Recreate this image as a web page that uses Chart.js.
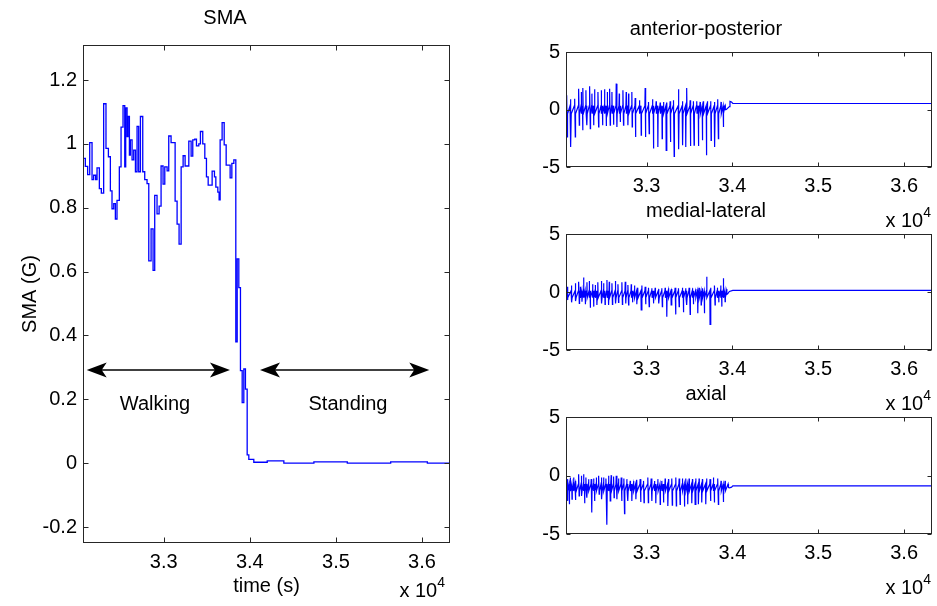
<!DOCTYPE html>
<html>
<head>
<title>SMA - walking and standing</title>
<script src="https://cdn.jsdelivr.net/npm/chart.js"></script>
<style>
    body { margin: 0; background: #fff; }
    #wrap { position: relative; width: 937px; height: 606px; overflow: hidden; }
    canvas { position: absolute; }
</style>
</head>
<body>
<div id="wrap">
    <canvas id="smaChart" width="470" height="606" style="left:0px;top:0px"></canvas>
    <canvas id="apChart" width="457" height="237" style="left:480px;top:0px"></canvas>
    <canvas id="mlChart" width="457" height="238" style="left:480px;top:182px"></canvas>
    <canvas id="axChart" width="457" height="239" style="left:480px;top:365px"></canvas>
</div>
<script>
// ---------- data ----------
const xTickValues = [33000, 34000, 35000, 36000];
const smaYTicks = [-0.2, 0, 0.2, 0.4, 0.6, 0.8, 1, 1.2];
const accYTicks = [-5, 0, 5];

// SMA (G), one value per window, held until the next time
const smaTime = [32062, 32089, 32116, 32140, 32167, 32186, 32209, 32225, 32252, 32275,
    32302, 32329, 32357, 32380, 32399, 32419, 32438, 32457, 32484, 32504,
    32527, 32547, 32558, 32574, 32585, 32601, 32612, 32632, 32651, 32671,
    32690, 32709, 32729, 32756, 32779, 32806, 32826, 32853, 32876, 32895,
    32922, 32946, 32969, 32992, 33012, 33039, 33058, 33085, 33132, 33155,
    33178, 33202, 33225, 33248, 33291, 33318, 33337, 33360, 33380, 33407,
    33426, 33453, 33477, 33496, 33516, 33562, 33589, 33605, 33628, 33643,
    33655, 33678, 33702, 33725, 33771, 33791, 33814, 33837, 33853, 33872,
    33891, 33911, 33930, 33949, 33969, 33988, 34046, 34202, 34395, 34744,
    35132, 35636, 36062, 36325];
const smaValue = [0.955, 0.930, 0.904, 1.004, 0.888, 0.902, 0.888, 0.925, 0.860, 0.846,
    1.126, 0.986, 0.960, 0.853, 0.797, 0.813, 0.765, 0.823, 0.928, 1.053,
    1.120, 0.928, 1.113, 1.023, 1.086, 0.965, 1.013, 0.950, 0.981, 0.913,
    1.055, 0.913, 1.086, 0.913, 0.888, 0.876, 0.634, 0.734, 0.604, 0.839,
    0.781, 0.805, 0.931, 0.874, 0.928, 0.916, 1.025, 1.004, 0.821, 0.749,
    0.686, 0.928, 0.963, 0.931, 1.009, 0.962, 1.013, 1.015, 0.994, 1.000,
    1.039, 1.000, 0.955, 0.897, 0.871, 0.915, 0.897, 0.865, 0.849, 0.825,
    1.013, 1.067, 0.997, 0.934, 0.894, 0.939, 0.950, 0.380, 0.640, 0.550,
    0.290, 0.190, 0.295, 0.232, 0.026, 0.012, 0.003, 0.007, 0.000, 0.004,
    0.000, 0.004, 0.000, 0.000];

// anterior-posterior acceleration (G)
const apPeakTime = [32070, 32112, 32163, 32209, 32240, 32260, 32294, 32337, 32364, 32395,
    32434, 32473, 32511, 32543, 32570, 32597, 32647, 32682, 32725, 32763,
    32791, 32829, 32868, 32918, 32984, 33023, 33070, 33112, 33159, 33198,
    33236, 33275, 33314, 33372, 33418, 33469, 33508, 33546, 33585, 33624,
    33663, 33709, 33748, 33791, 33829, 33868, 33915];
const apPeakValue = [1.23, 0.89, 0.94, 1.81, 1.52, 1.87, 1.67, 2.02, 1.38, 1.76,
    1.52, 1.67, 1.76, 1.52, 1.81, 1.52, 2.25, 1.38, 1.67, 1.52,
    1.38, 1.52, 1.00, 0.80, 1.87, 0.66, 0.89, 0.71, 0.60, 0.66,
    0.60, 0.71, 0.80, 1.76, 0.71, 1.87, 0.80, 0.71, 0.71, 0.66,
    0.71, 0.71, 0.71, 0.66, 0.89, 0.66, 0.37];
const apTroughTime = [32077, 32120, 32170, 32217, 32256, 32306, 32345, 32384, 32442, 32488,
    32531, 32577, 32616, 32655, 32694, 32732, 32783, 32833, 32872, 32938,
    32988, 33031, 33081, 33132, 33182, 33229, 33279, 33322, 33376, 33422,
    33457, 33512, 33554, 33605, 33651, 33698, 33752, 33795, 33837, 33895];
const apTroughValue = [-2.39, -3.26, -2.39, -1.37, -1.81, -1.37, -1.66, -1.37, -1.52, -1.37,
    -1.43, -1.37, -1.32, -1.52, -1.08, -1.37, -1.37, -1.52, -2.39, -2.24,
    -2.39, -2.10, -3.40, -3.26, -2.53, -3.55, -2.82, -4.07, -3.46, -3.11,
    -3.26, -3.17, -3.11, -3.17, -2.68, -3.98, -2.68, -3.26, -2.53, -1.52];
const apWalkLevel = -0.02;
const apWalkBand = 0.35;
const apRestTime = [33930, 33965, 33972, 33990, 34005, 36320];
const apRestValue = [0.00, 0.25, 0.70, 0.65, 0.53, 0.52];

// medial-lateral acceleration (G)
const mlPeakTime = [32074, 32124, 32170, 32209, 32229, 32267, 32306, 32333, 32372, 32403,
    32434, 32473, 32500, 32539, 32566, 32597, 32636, 32667, 32713, 32752,
    32783, 32822, 32860, 32899, 32946, 32984, 33023, 33062, 33101, 33139,
    33178, 33217, 33256, 33294, 33333, 33372, 33418, 33457, 33496, 33535,
    33573, 33612, 33651, 33701, 33748, 33791, 33825, 33864, 33895, 33934];
const mlPeakValue = [0.46, 0.55, 0.75, 0.89, 0.46, 1.24, 0.83, 0.95, 0.66, 0.60,
    0.83, 0.95, 0.75, 1.03, 0.89, 0.75, 0.95, 0.66, 0.83, 0.89,
    0.60, 0.66, 0.55, 0.37, 0.55, 0.46, 0.37, 0.32, 0.37, 0.26,
    0.32, 0.37, 0.32, 0.26, 0.37, 0.32, 0.37, 0.32, 0.37, 0.32,
    0.26, 0.37, 0.32, 1.32, 0.37, 0.55, 0.37, 0.55, 1.18, 0.26];
const mlTroughTime = [32080, 32130, 32176, 32217, 32248, 32287, 32345, 32384, 32422, 32479,
    32517, 32558, 32603, 32642, 32674, 32719, 32758, 32791, 32837, 32887,
    32938, 32990, 33031, 33081, 33145, 33184, 33236, 33287, 33339, 33380,
    33430, 33469, 33508, 33546, 33597, 33636, 33674, 33740, 33798, 33841,
    33876, 33915];
const mlTroughValue = [-0.69, -0.89, -0.78, -0.98, -0.83, -1.06, -1.35, -1.26, -1.12, -0.98,
    -1.06, -1.12, -1.06, -0.98, -0.89, -1.06, -0.98, -1.12, -0.89, -1.06,
    -1.55, -1.06, -1.26, -0.98, -0.98, -1.26, -2.13, -1.12, -1.93, -1.26,
    -1.75, -1.12, -1.93, -1.06, -1.84, -1.12, -1.84, -2.79, -1.12, -0.89,
    -1.26, -0.83];
const mlWalkLevel = -0.2;
const mlWalkBand = 0.3;
const mlRestTime = [33945, 33965, 34005, 36320];
const mlRestValue = [-0.15, 0.05, 0.14, 0.14];

// axial acceleration (G)
const axPeakTime = [32074, 32112, 32151, 32178, 32209, 32240, 32267, 32294, 32325, 32356,
    32384, 32415, 32442, 32473, 32500, 32527, 32558, 32589, 32616, 32647,
    32674, 32705, 32736, 32771, 32810, 32849, 32887, 32926, 32965, 33015,
    33054, 33093, 33132, 33178, 33217, 33256, 33294, 33341, 33380, 33418,
    33457, 33496, 33535, 33573, 33612, 33651, 33701, 33740, 33779, 33829,
    33868, 33915, 33953];
const axPeakValue = [-0.31, -0.17, -0.17, -0.46, 0.11, -0.03, 0.11, -0.17, -0.31, -0.31,
    -0.26, -0.17, -0.03, -0.17, -0.17, -0.26, -0.03, 0.03, -0.09, -0.03,
    -0.26, -0.17, -0.26, -0.31, -0.46, -0.46, -0.37, -0.31, -0.46, -0.17,
    -0.26, -0.46, -0.31, -0.46, -0.26, -0.31, -0.26, -0.17, -0.26, -0.26,
    -0.26, -0.26, -0.31, -0.26, -0.26, -0.31, -0.26, -0.31, -0.17, -0.26,
    -0.46, -0.46, -0.74];
const axTroughTime = [32080, 32101, 32132, 32170, 32215, 32246, 32279, 32306, 32362, 32395,
    32448, 32480, 32539, 32577, 32622, 32655, 32711, 32744, 32783, 32829,
    32876, 32932, 32971, 33021, 33062, 33108, 33159, 33198, 33248, 33300,
    33347, 33391, 33442, 33480, 33527, 33566, 33604, 33643, 33690, 33746,
    33790, 33837, 33895];
const axTroughValue = [-2.17, -2.46, -2.03, -2.09, -1.74, -1.74, -2.37, -1.89, -3.17, -2.17,
    -1.60, -2.03, -4.20, -2.17, -1.89, -2.03, -2.17, -3.25, -2.17, -2.17,
    -2.03, -2.26, -2.31, -2.31, -2.17, -2.37, -2.46, -2.31, -2.60, -2.54,
    -2.60, -2.46, -2.66, -2.46, -2.37, -2.46, -2.46, -2.31, -2.46, -2.17,
    -2.31, -2.46, -2.26];
const axWalkLevel = -1.03;
const axWalkBand = 0.3;
const axRestTime = [33965, 33990, 34005, 36320];
const axRestValue = [-1.05, -1.0, -0.88, -0.88];

// arrows and labels on the SMA plot, in data units
const phaseNames = ['Walking', 'Standing'];
const phaseFrom = [32105, 34118];
const phaseTo = [33769, 36084];
const phaseLabelX = [32898, 35140];
const phaseArrowY = 0.292;
const phaseLabelY = 0.185;

// ---------- helpers ----------
const X_MIN = 32062, X_MAX = 36325;
const FONT = { family: '"Liberation Sans", Arial, Helvetica, sans-serif', size: 20, weight: 'normal' };
const FONT_CSS = '20px "Liberation Sans", Arial, sans-serif';

// spikes, joined through the walking noise band
function spikeSeries(peakT, peakV, troughT, troughV, level, band, restT, restV) {
    const ev = [];
    peakT.forEach((t, i) => ev.push([t, peakV[i]]));
    troughT.forEach((t, i) => ev.push([t, troughV[i]]));
    ev.sort((a, b) => a[0] - b[0]);
    const pts = [];
    ev.forEach((e, i) => {
        const prev = ev[i - 1];
        if (!prev || e[0] - prev[0] > 8) {
            if (prev) pts.push({ x: prev[0] + 3, y: level - band });
            pts.push({ x: e[0] - 3, y: level + band });
        }
        pts.push({ x: e[0], y: e[1] });
    });
    pts.push({ x: ev[ev.length - 1][0] + 3, y: level });
    restT.forEach((t, i) => pts.push({ x: t, y: restV[i] }));
    return pts;
}

// MATLAB style box, inward ticks and the "x 10^4" multiplier
const matlabBox = {
    id: 'matlabBox',
    afterDraw(chart, args, o) {
        const { ctx, chartArea: a, scales } = chart;
        const L = Math.round(a.left) + 0.5, R = Math.round(a.right) - 0.5;
        const T = Math.round(a.top) + 0.5, B = Math.round(a.bottom) - 0.5;
        ctx.save();
        ctx.strokeStyle = '#262626';
        ctx.lineWidth = 1;
        ctx.strokeRect(L, T, R - L, B - T);
        ctx.beginPath();
        scales.x.ticks.forEach(t => {
            const px = Math.round(scales.x.getPixelForValue(t.value)) + 0.5;
            ctx.moveTo(px, B); ctx.lineTo(px, B - o.tick);
            ctx.moveTo(px, T); ctx.lineTo(px, T + o.tick);
        });
        scales.y.ticks.forEach(t => {
            const py = Math.round(scales.y.getPixelForValue(t.value)) + 0.5;
            ctx.moveTo(L, py); ctx.lineTo(L + o.tick, py);
            ctx.moveTo(R, py); ctx.lineTo(R - o.tick, py);
        });
        ctx.stroke();

        // exponent label
        ctx.fillStyle = '#000';
        ctx.textBaseline = 'alphabetic';
        ctx.textAlign = 'right';
        ctx.font = '14px "Liberation Sans", Arial, sans-serif';
        const ex = a.right - o.expInset;
        const ey = a.bottom + o.expDrop;
        ctx.fillText('4', ex, ey - 10);
        const w4 = ctx.measureText('4').width;
        ctx.font = FONT_CSS;
        ctx.fillText('x 10', ex - w4, ey);
        ctx.restore();
    }
};

// arrows with Walking / Standing labels
const phaseArrows = {
    id: 'phaseArrows',
    afterDatasetsDraw(chart) {
        const { ctx, scales: { x, y } } = chart;
        const ay = y.getPixelForValue(phaseArrowY);
        const ly = y.getPixelForValue(phaseLabelY);
        ctx.save();
        ctx.strokeStyle = '#000';
        ctx.fillStyle = '#000';
        ctx.lineWidth = 1.5;
        const head = (tip, dir) => {
            ctx.beginPath();
            ctx.moveTo(tip, ay);
            ctx.lineTo(tip - dir * 20, ay - 7.5);
            ctx.lineTo(tip - dir * 15, ay);
            ctx.lineTo(tip - dir * 20, ay + 7.5);
            ctx.closePath();
            ctx.fill();
        };
        phaseNames.forEach((name, i) => {
            const x1 = x.getPixelForValue(phaseFrom[i]);
            const x2 = x.getPixelForValue(phaseTo[i]);
            ctx.beginPath();
            ctx.moveTo(x1 + 10, ay);
            ctx.lineTo(x2 - 10, ay);
            ctx.stroke();
            head(x1, -1);
            head(x2, 1);
            ctx.font = FONT_CSS;
            ctx.textAlign = 'center';
            ctx.textBaseline = 'middle';
            ctx.fillText(name, x.getPixelForValue(phaseLabelX[i]), ly);
        });
        ctx.restore();
    }
};

function tickList(values) {
    return s => { s.ticks = values.map(v => ({ value: v })); };
}

function makeOptions(p) {
    return {
        responsive: false,
        animation: false,
        events: [],
        layout: { padding: { left: 0, right: p.padRight, top: 0, bottom: 0 } },
        plugins: {
            legend: { display: false },
            tooltip: { enabled: false },
            title: {
                display: true, text: p.title, color: '#000', font: FONT,
                padding: { top: p.titleTop, bottom: p.titleBottom }
            },
            matlabBox: { tick: p.tick, expInset: p.expInset, expDrop: p.expDrop }
        },
        scales: {
            x: {
                type: 'linear', min: X_MIN, max: X_MAX,
                grid: { display: false, drawTicks: false },
                border: { display: false },
                afterBuildTicks: tickList(xTickValues),
                afterFit: s => { s.height = p.xHeight; },
                ticks: {
                    color: '#000', font: FONT, padding: 7, maxRotation: 0, autoSkip: false,
                    callback: v => (v / 1e4).toFixed(1)
                },
                title: p.xTitle
                    ? { display: true, text: p.xTitle, color: '#000', font: FONT, padding: { top: 0, bottom: 8 } }
                    : { display: false }
            },
            y: {
                type: 'linear', min: p.yMin, max: p.yMax,
                grid: { display: false, drawTicks: false },
                border: { display: false },
                afterBuildTicks: tickList(p.yTicks),
                afterFit: s => { s.width = p.yWidth; },
                ticks: {
                    color: '#000', font: FONT, padding: 6, autoSkip: false,
                    callback: v => String(Math.round(v * 10) / 10)
                },
                title: p.yTitle
                    ? { display: true, text: p.yTitle, color: '#000', font: FONT, padding: { top: 18, bottom: 0 } }
                    : { display: false }
            }
        }
    };
}

function lineSet(points, stepped, width) {
    return {
        data: points,
        borderColor: '#0000ff',
        borderWidth: width,
        pointRadius: 0,
        tension: 0,
        stepped: stepped,
        parsing: false
    };
}

// ---------- charts ----------
const smaChart = new Chart(document.getElementById('smaChart'), {
    type: 'line',
    data: { datasets: [lineSet(smaTime.map((t, i) => ({ x: t, y: smaValue[i] })), 'before', 1.3)] },
    options: makeOptions({
        title: 'SMA', titleTop: 6, titleBottom: 15, padRight: 20,
        xHeight: 63, yWidth: 83, xTitle: 'time (s)', yTitle: 'SMA (G)',
        yMin: -0.25, yMax: 1.31, yTicks: smaYTicks,
        tick: 5, expInset: 5, expDrop: 54
    }),
    plugins: [matlabBox, phaseArrows]
});

const rightPanel = (title) => ({
    title: title, titleTop: 17, titleBottom: 11, padRight: 5,
    xHeight: 70, yWidth: 86,
    yMin: -5, yMax: 5, yTicks: accYTicks,
    tick: 4, expInset: 1, expDrop: 60
});

const apChart = new Chart(document.getElementById('apChart'), {
    type: 'line',
    data: { datasets: [lineSet(spikeSeries(apPeakTime, apPeakValue, apTroughTime, apTroughValue, apWalkLevel, apWalkBand, apRestTime, apRestValue), false, 1.2)] },
    options: makeOptions(rightPanel('anterior-posterior')),
    plugins: [matlabBox]
});

const mlChart = new Chart(document.getElementById('mlChart'), {
    type: 'line',
    data: { datasets: [lineSet(spikeSeries(mlPeakTime, mlPeakValue, mlTroughTime, mlTroughValue, mlWalkLevel, mlWalkBand, mlRestTime, mlRestValue), false, 1.2)] },
    options: makeOptions(rightPanel('medial-lateral')),
    plugins: [matlabBox]
});

const axChart = new Chart(document.getElementById('axChart'), {
    type: 'line',
    data: { datasets: [lineSet(spikeSeries(axPeakTime, axPeakValue, axTroughTime, axTroughValue, axWalkLevel, axWalkBand, axRestTime, axRestValue), false, 1.2)] },
    options: makeOptions(rightPanel('axial')),
    plugins: [matlabBox]
});
</script>
</body>
</html>
